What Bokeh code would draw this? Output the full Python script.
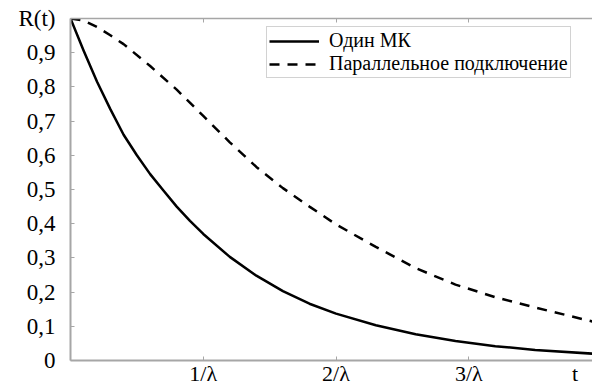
from bokeh.plotting import figure
from bokeh.models import FixedTicker, LinearAxis, Legend, LegendItem, Range1d
from bokeh.embed import file_html
from bokeh.resources import INLINE

# ---- data ----
t_single = [0, 0.1, 0.2, 0.3, 0.4, 0.5, 0.6, 0.7, 0.8, 0.9, 1.0, 1.2, 1.4, 1.6,
            1.8, 2.0, 2.3, 2.6, 2.9, 3.2, 3.5, 3.932]
single = [1.0, 0.905, 0.815, 0.735, 0.66, 0.60, 0.545, 0.497, 0.45, 0.408, 0.37,
          0.303, 0.248, 0.203, 0.166, 0.137, 0.103, 0.077, 0.057, 0.042, 0.031, 0.020]
t_parallel = [0, 0.1, 0.2, 0.3, 0.4, 0.6, 0.8, 1.0, 1.2, 1.4, 1.6, 1.8, 2.0, 2.3,
              2.6, 2.9, 3.2, 3.5, 3.932]
parallel = [1.0, 0.994, 0.975, 0.951, 0.925, 0.861, 0.792, 0.715, 0.638, 0.566,
            0.504, 0.450, 0.398, 0.332, 0.27, 0.222, 0.185, 0.155, 0.114]
series_names = ["Один МК", "Параллельное подключение"]
x_ticks = [1, 2, 3]
x_tick_labels = ["1/λ", "2/λ", "3/λ"]
x_name_pos, x_name = 3.80, "t"
y_ticks = [0.0, 0.1, 0.2, 0.3, 0.4, 0.5, 0.6, 0.7, 0.8, 0.9, 1.0]
y_tick_labels = ["0", "0,1", "0,2", "0,3", "0,4", "0,5", "0,6", "0,7", "0,8", "0,9", "R(t)"]

FONT = "Liberation Serif"
GRAY = "#a6a6a6"
TICK_FS = "23px"

p = figure(width=592, height=388, output_backend="svg", toolbar_location=None,
           x_range=Range1d(0, 3.932), y_range=Range1d(0, 1.0),
           x_axis_type=None, y_axis_type=None,
           min_border_left=70, min_border_right=0, min_border_top=18,
           min_border_bottom=26)
p.outline_line_color = None
p.xgrid.visible = False
p.ygrid.visible = False
p.background_fill_color = "white"
p.border_fill_color = "white"

# left axis
ya = LinearAxis(ticker=FixedTicker(ticks=y_ticks))
ya.major_label_overrides = {v: s for v, s in zip(y_ticks, y_tick_labels)}
ya.major_tick_in = 4
ya.major_tick_out = 0
ya.minor_tick_line_color = None
ya.axis_line_color = GRAY
ya.axis_line_width = 2
ya.major_tick_line_color = GRAY
ya.major_label_standoff = 15
ya.major_label_text_font = FONT
ya.major_label_text_font_size = TICK_FS
ya.major_label_text_color = "black"
p.add_layout(ya, "left")

# bottom axis: labels on majors, visible tick marks on 1/λ..3/λ as minor ticks
xa = LinearAxis(ticker=FixedTicker(ticks=x_ticks + [x_name_pos], minor_ticks=x_ticks))
xa.major_label_overrides = {v: s for v, s in zip(x_ticks + [x_name_pos], x_tick_labels + [x_name])}
xa.major_tick_in = 0
xa.major_tick_out = 0
xa.major_tick_line_color = None
xa.minor_tick_in = 4
xa.minor_tick_out = 0
xa.minor_tick_line_color = GRAY
xa.axis_line_color = GRAY
xa.axis_line_width = 2
xa.major_label_text_font = FONT
xa.major_label_text_font_size = "22px"
xa.major_label_text_color = "black"
xa.major_label_standoff = 0
p.add_layout(xa, "below")

# top axis (frame line with inner ticks)
ta = LinearAxis(ticker=FixedTicker(ticks=x_ticks))
ta.major_label_overrides = {v: " " for v in x_ticks}
ta.major_tick_in = 4
ta.major_tick_out = 0
ta.minor_tick_line_color = None
ta.axis_line_color = GRAY
ta.axis_line_width = 1.5
ta.major_tick_line_color = GRAY
ta.major_label_text_font_size = "1px"
ta.major_label_standoff = 0
p.add_layout(ta, "above")

r1 = p.line(t_single, single, line_color="black", line_width=2.5, line_join="round")
r2 = p.line(t_parallel, parallel, line_color="black", line_width=2.5, line_dash="10 8")

legend = Legend(items=[LegendItem(label=series_names[0], renderers=[r1]),
                       LegendItem(label=series_names[1], renderers=[r2])],
                location=(196, 282))
legend.border_line_color = GRAY
legend.border_line_width = 1
legend.background_fill_color = "white"
legend.background_fill_alpha = 1
legend.label_text_font = FONT
legend.label_text_font_size = "20px"
legend.label_text_color = "black"
legend.glyph_width = 50
legend.glyph_height = 20
legend.label_height = 20
legend.label_standoff = 10
legend.spacing = 0
legend.padding = 2
legend.margin = 0
p.add_layout(legend)

open("out.html", "w").write(file_html(p, INLINE))
